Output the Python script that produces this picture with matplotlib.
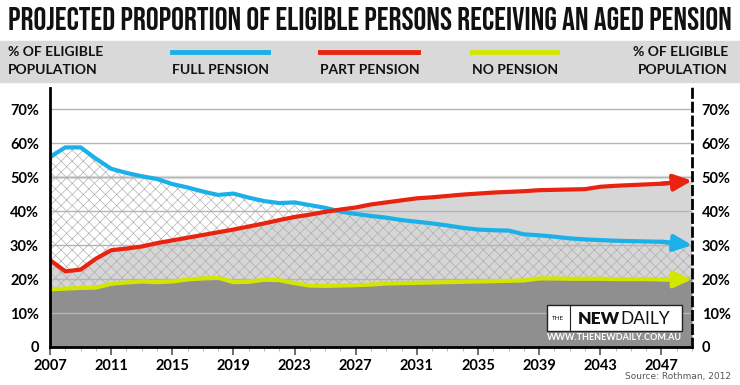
import matplotlib
matplotlib.use('Agg')
import matplotlib.pyplot as plt
from matplotlib.lines import Line2D
from matplotlib.patches import Rectangle
import numpy as np

years = list(range(2007, 2050))
full_pension = [56.0, 58.8, 58.8, 55.5, 52.5, 51.3, 50.3, 49.5, 48.0, 47.0,
                45.8, 44.8, 45.2, 44.0, 43.0, 42.4, 42.6, 41.8, 41.0, 39.9,
                39.2, 38.6, 38.1, 37.4, 36.9, 36.4, 35.8, 35.1, 34.6, 34.4,
                34.3, 33.2, 32.9, 32.5, 32.0, 31.7, 31.5, 31.3, 31.2, 31.1,
                31.0, 30.6, 30.0]
part_pension = [25.6, 22.3, 22.8, 26.0, 28.5, 29.0, 29.6, 30.6, 31.4, 32.2,
                33.0, 33.8, 34.6, 35.5, 36.4, 37.4, 38.3, 39.0, 39.8, 40.5,
                41.1, 42.0, 42.6, 43.2, 43.8, 44.1, 44.5, 44.9, 45.2, 45.5,
                45.7, 45.9, 46.2, 46.3, 46.4, 46.5, 47.2, 47.5, 47.7, 47.9,
                48.1, 48.5, 49.0]
no_pension = [17.0, 17.2, 17.4, 17.5, 18.6, 19.0, 19.3, 19.1, 19.3, 19.9,
              20.2, 20.4, 19.1, 19.2, 19.8, 19.7, 18.8, 18.1, 18.0, 18.1,
              18.2, 18.4, 18.7, 18.8, 18.9, 19.0, 19.1, 19.2, 19.3, 19.4,
              19.5, 19.6, 20.2, 20.2, 20.1, 20.1, 20.1, 20.0, 20.0, 20.0,
              19.9, 19.9, 19.9]
year_ticks = list(range(2007, 2049, 4))
pct_ticks = [0, 10, 20, 30, 40, 50, 60, 70]
pct_labels = ['0'] + ['%d%%' % p for p in pct_ticks[1:]]

BLUE = '#1cb0e8'
RED = '#e8230f'
YELLOW = '#d2e600'
W, H = 740, 385
BOLD = ['Lato', 'DejaVu Sans']
TITLE = ['Bebas Neue', 'DejaVu Sans']
plt.rcParams['hatch.linewidth'] = 0.45


def fx(x):
    return x / W


def fy(y):
    return 1 - y / H


fig = plt.figure(figsize=(7.4, 3.85), dpi=100)
ax = fig.add_axes([fx(50), fy(347), fx(692 - 50), (347 - 88) / H])

x = np.array(years)
full = np.array(full_pension)
part = np.array(part_pension)
nop = np.array(no_pension)

ax.fill_between(x, 0, part, color='#d6d6d6', lw=0, zorder=1)
ax.fill_between(x, nop, full, facecolor='none', edgecolor='#ababab',
                hatch='xxx', lw=0, zorder=2)
ax.fill_between(x, 0, nop, color='#8f8f8f', lw=0, zorder=3)

for p in pct_ticks[1:]:
    ax.axhline(p, color='#b5b5b5', lw=1, zorder=4)
ax.axhline(50, color='#e4e4e4', lw=2.5, zorder=0.5)

for vals, col in [(nop, YELLOW), (full, BLUE), (part, RED)]:
    ax.plot(x[:-1], vals[:-1], color=col, lw=3, zorder=6,
            solid_capstyle='round', solid_joinstyle='round')
    ax.annotate('', xy=(x[-1], vals[-1]), xytext=(x[-3], vals[-3]),
                arrowprops=dict(arrowstyle='-|>,head_length=1.1,head_width=0.5',
                                color=col, lw=3, shrinkA=0, shrinkB=0),
                zorder=7)

ax.set_xlim(2007, 2049)
ax.set_ylim(0, 76.3)
ax.set_xticks(year_ticks)
ax.set_xticklabels([str(y) for y in year_ticks], fontfamily=BOLD,
                   fontweight='bold', fontsize=10.5)
ax.set_xticks(years, minor=True)
ax.tick_params(axis='x', which='major', length=6, width=1.2, color='#555555', pad=3)
ax.tick_params(axis='x', which='minor', length=3, width=0.8, color='#bbbbbb')
ax.set_yticks(pct_ticks)
ax.set_yticklabels(pct_labels, fontfamily=BOLD, fontweight='bold', fontsize=10.5)
ax.tick_params(axis='y', length=0, pad=8)

for s in ['top', 'right']:
    ax.spines[s].set_visible(False)
ax.spines['left'].set_linewidth(2)
ax.spines['bottom'].set_linewidth(2)
ax.spines['left'].set_zorder(8)
ax.spines['bottom'].set_zorder(8)

ax2 = ax.twinx()
ax2.set_ylim(0, 76.3)
ax2.set_yticks(pct_ticks)
ax2.set_yticklabels(pct_labels, fontfamily=BOLD, fontweight='bold', fontsize=10.5)
ax2.tick_params(axis='y', length=0, pad=7)
for s in ['top', 'left', 'bottom']:
    ax2.spines[s].set_visible(False)
ax2.spines['right'].set_linestyle((0, (3, 2)))
ax2.spines['right'].set_linewidth(2)

# header
title = fig.text(fx(370), fy(19), 'PROJECTED PROPORTION OF ELIGIBLE PERSONS RECEIVING AN AGED PENSION',
                 ha='center', va='center', fontsize=26, fontweight='bold',
                 fontfamily=TITLE, color='#111111')
renderer = fig.canvas.get_renderer()
tw = title.get_window_extent(renderer).width
title.set_fontsize(26 * 724 / tw)

fig.patches.append(Rectangle((0, fy(82)), 1, 41 / H, transform=fig.transFigure,
                             color='#d9d9d9', zorder=0))
hdr = dict(fontsize=10, fontweight='bold', fontfamily=BOLD, color='#111111', va='center')
fig.text(fx(8), fy(52), '% OF ELIGIBLE', ha='left', **hdr)
fig.text(fx(8), fy(70), 'POPULATION', ha='left', **hdr)
fig.text(fx(728), fy(52), '% OF ELIGIBLE', ha='right', **hdr)
fig.text(fx(728), fy(70), 'POPULATION', ha='right', **hdr)
for x0, x1, col, lab in [(172, 268, BLUE, 'FULL PENSION'),
                         (320, 418, RED, 'PART PENSION'),
                         (472, 557, YELLOW, 'NO PENSION')]:
    fig.lines.append(Line2D([fx(x0), fx(x1)], [fy(51.5), fy(51.5)],
                            transform=fig.transFigure, color=col, lw=3.5))
    fig.text(fx(x0), fy(70), lab, ha='left', **hdr)

# logo
fig.patches.append(Rectangle((fx(547), fy(331)), (682 - 547) / W, 26 / H,
                             transform=fig.transFigure, facecolor='white',
                             edgecolor='#222222', lw=1, zorder=9))
fig.lines.append(Line2D([fx(570), fx(570)], [fy(331), fy(305)],
                        transform=fig.transFigure, color='#222222', lw=0.8, zorder=10))
fig.text(fx(558), fy(318), 'THE', ha='center', va='center', fontsize=4.5,
         fontfamily=BOLD, color='#111111', zorder=10)
new = fig.text(fx(578), fy(318.5), 'NEW', ha='left', va='center', fontsize=12.5,
               fontweight='heavy', fontfamily=BOLD, color='#111111', zorder=10)
nb = new.get_window_extent(renderer)
fig.text(nb.x1 / W + 0.001, fy(318.5), 'DAILY', ha='left', va='center', fontsize=12.5,
         fontfamily=BOLD, color='#111111', zorder=10)
fig.text(fx(614), fy(338), 'WWW.THENEWDAILY.COM.AU', ha='center', va='center',
         fontsize=6.5, fontweight='bold', fontfamily=BOLD, color='white', zorder=10)

fig.text(fx(731), fy(377), 'Source: Rothman, 2012', ha='right', va='center',
         fontsize=6.5, color='#555555')

fig.savefig('out.png', dpi=100)
